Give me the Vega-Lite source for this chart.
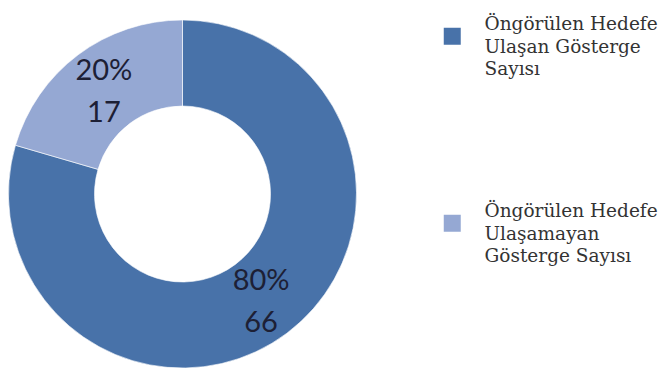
{
  "$schema": "https://vega.github.io/schema/vega-lite/v6.json",
  "width": 365,
  "height": 352,
  "autosize": "none",
  "padding": {"left": 0, "top": 18, "right": 295, "bottom": 0},
  "background": "white",
  "config": {"view": {"stroke": null}, "style": {"guide-label": {"lineHeight": 22.5, "dy": -12}}},
  "data": {
    "values": [
      {"kategori": "Öngörülen Hedefe Ulaşan Gösterge Sayısı", "sayi": 66, "oran": "80%", "sira": 1},
      {"kategori": "Öngörülen Hedefe Ulaşamayan Gösterge Sayısı", "sayi": 17, "oran": "20%", "sira": 2}
    ]
  },
  "encoding": {
    "theta": {"field": "sayi", "type": "quantitative", "stack": true},
    "order": {"field": "sira", "type": "ordinal"}
  },
  "layer": [
    {
      "mark": {"type": "arc", "outerRadius": 174, "innerRadius": 88, "stroke": "white", "strokeWidth": 0.6},
      "encoding": {
        "color": {
          "field": "kategori",
          "type": "nominal",
          "scale": {
            "domain": ["Öngörülen Hedefe Ulaşan Gösterge Sayısı", "Öngörülen Hedefe Ulaşamayan Gösterge Sayısı"],
            "range": ["#4872a9", "#95a8d3"]
          },
          "legend": {
            "orient": "none",
            "legendX": 443,
            "legendY": 9,
            "title": null,
            "padding": 0,
            "symbolType": "square",
            "symbolSize": 289,
            "symbolStrokeWidth": 0,
            "labelFont": "DejaVu Serif",
            "labelFontSize": 18.5,
            "labelColor": "#333333",
            "labelOffset": 23,
            "labelLimit": 400,
            "rowPadding": 123,
            "labelExpr": "datum.label == 'Öngörülen Hedefe Ulaşan Gösterge Sayısı' ? ['Öngörülen Hedefe', 'Ulaşan Gösterge', 'Sayısı'] : ['Öngörülen Hedefe', 'Ulaşamayan', 'Gösterge Sayısı']"
          }
        }
      }
    },
    {
      "mark": {"type": "text", "radius": 131, "dy": -18, "font": "Lato", "fontSize": 29, "baseline": "middle"},
      "encoding": {
        "text": {"field": "oran", "type": "nominal"},
        "detail": {"field": "kategori", "type": "nominal"},
        "color": {"value": "#1d2035"}
      }
    },
    {
      "mark": {"type": "text", "radius": 131, "dy": 24, "font": "Lato", "fontSize": 29, "baseline": "middle"},
      "encoding": {
        "text": {"field": "sayi", "type": "quantitative"},
        "detail": {"field": "kategori", "type": "nominal"},
        "color": {"value": "#1d2035"}
      }
    }
  ]
}
